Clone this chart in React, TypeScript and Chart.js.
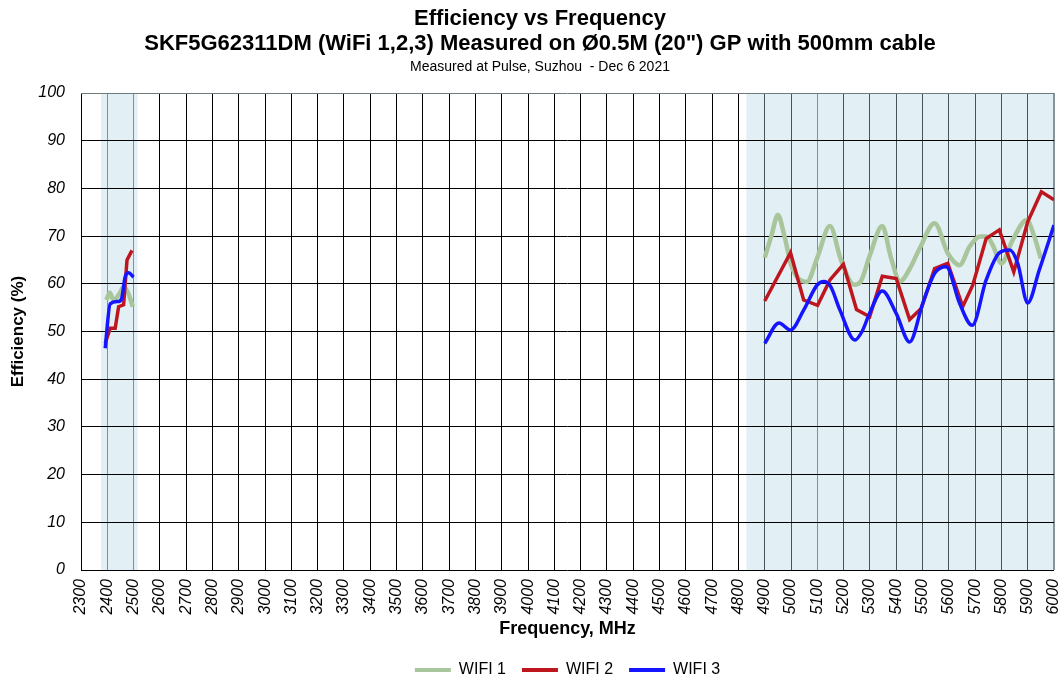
import React, { useEffect, useRef } from "react";
import { Chart, registerables } from "chart.js";

Chart.register(...registerables);

const FONT = "'Liberation Sans', Arial, sans-serif";

const titleLines = [
  "Efficiency vs Frequency",
  'SKF5G62311DM (WiFi 1,2,3) Measured on Ø0.5M (20") GP with 500mm cable',
];
const subtitleText = "Measured at Pulse, Suzhou  - Dec 6 2021";
const xAxisTitle = "Frequency, MHz";
const yAxisTitle = "Efficiency (%)";
const seriesNames = ["WIFI 1", "WIFI 2", "WIFI 3"];

const xMin = 2300;
const xMax = 6000;
const xStep = 100;
const yMin = 0;
const yMax = 100;
const yStep = 10;

// measured bands (MHz)
const bandRanges = [
  [2376, 2515],
  [4830, 6000],
];
const bandMarkers = [2400, 2500, 5100];

// WIFI 1
const wifi1Freq24 = [2396, 2410, 2423, 2447, 2462, 2480, 2497];
const wifi1Eff24 = [56.6, 58.1, 56.6, 58.0, 59.4, 58.0, 55.2];
const wifi1Freq5 = [
  4900, 4925, 4950, 4975, 5000, 5030, 5060, 5100, 5148, 5190, 5240, 5265, 5300,
  5347, 5380, 5415, 5450, 5490, 5546, 5596, 5641, 5679, 5720, 5745, 5767, 5800,
  5843, 5896, 5925, 5950,
];
const wifi1Eff5 = [
  65.5, 70.0, 74.4, 70.0, 64.0, 61.0, 60.4, 65.5, 72.1, 65.0, 59.8, 60.5, 66.0,
  72.1, 65.5, 60.5, 63.0, 67.5, 72.7, 66.4, 63.9, 67.8, 69.9, 69.9, 68.1, 64.3,
  69.2, 73.4, 69.9, 65.3,
];

// WIFI 2
const wifi2Freq24 = [2392, 2411, 2430, 2443, 2462, 2475, 2494];
const wifi2Eff24 = [47.5, 50.7, 50.7, 55.2, 55.6, 65.0, 67.0];
const wifi2Freq5 = [
  4900, 4998, 5048, 5101, 5148, 5199, 5249, 5299, 5347, 5400, 5451, 5495, 5546,
  5596, 5653, 5691, 5742, 5792, 5847, 5900, 5952, 6000,
];
const wifi2Eff5 = [
  56.4, 66.5, 56.6, 55.5, 60.8, 64.1, 54.6, 53.1, 61.6, 61.1, 52.5, 54.8, 63.2,
  64.3, 55.2, 59.7, 69.5, 71.3, 62.5, 73.0, 79.3, 77.6,
];

// WIFI 3
const wifi3Freq24 = [2392, 2411, 2443, 2455, 2468, 2481, 2500];
const wifi3Eff24 = [46.5, 55.8, 56.3, 57.0, 61.5, 62.3, 61.4];
const wifi3Freq5 = [
  4900, 4954, 4998, 5048, 5100, 5125, 5150, 5186, 5243, 5270, 5300, 5347, 5400,
  5451, 5501, 5546, 5590, 5641, 5689, 5742, 5792, 5832, 5862, 5900, 5944, 6000,
];
const wifi3Eff5 = [
  47.5, 51.8, 50.3, 54.5, 59.8, 60.5, 59.5, 54.5, 48.2, 50.0, 54.0, 58.5, 53.8,
  47.8, 55.9, 62.2, 63.6, 55.9, 51.3, 60.8, 66.5, 67.1, 64.3, 56.0, 62.9, 72.3,
];

const gapFreq = 3600;

function buildSeries(f24: number[], e24: number[], f5: number[], e5: number[]) {
  const a = f24.map((x, i) => ({ x, y: e24[i] as number | null }));
  const b = f5.map((x, i) => ({ x, y: e5[i] as number | null }));
  return [...a, { x: gapFreq, y: null }, ...b];
}

const bandPlugin = {
  id: "bands",
  beforeDraw(chart: any) {
    const { ctx, chartArea, scales } = chart;
    const xs = scales.x;
    ctx.save();
    ctx.fillStyle = "#e2eff4";
    bandRanges.forEach(([a, b]) => {
      const x1 = xs.getPixelForValue(a);
      const x2 = xs.getPixelForValue(b);
      ctx.fillRect(x1, chartArea.top, x2 - x1, chartArea.bottom - chartArea.top);
    });
    ctx.restore();
  },
};

const titlePlugin = {
  id: "customTitles",
  afterDraw(chart: any) {
    const ctx = chart.ctx;
    ctx.save();
    ctx.fillStyle = "#000";
    ctx.textAlign = "center";
    ctx.textBaseline = "middle";
    ctx.font = `bold 22px ${FONT}`;
    ctx.fillText(titleLines[0], 540, 19);
    ctx.fillText(titleLines[1], 540, 44);
    ctx.font = `14px ${FONT}`;
    ctx.fillText(subtitleText, 540, 67);
    ctx.restore();
  },
};

export default function App() {
  const ref = useRef<HTMLCanvasElement | null>(null);

  useEffect(() => {
    if (!ref.current) return;
    const inBand = (v: number) => bandRanges.some(([a, b]) => v > a && v <= b);
    const chart = new Chart(ref.current, {
      type: "line",
      data: {
        datasets: [
          {
            label: seriesNames[0],
            data: buildSeries(wifi1Freq24, wifi1Eff24, wifi1Freq5, wifi1Eff5),
            borderColor: "#a8c59b",
            backgroundColor: "#a8c59b",
            borderWidth: 4.5,
            pointRadius: 0,
            cubicInterpolationMode: "monotone",
            order: 3,
          },
          {
            label: seriesNames[1],
            data: buildSeries(wifi2Freq24, wifi2Eff24, wifi2Freq5, wifi2Eff5),
            borderColor: "#be161e",
            backgroundColor: "#be161e",
            borderWidth: 3.5,
            pointRadius: 0,
            tension: 0,
            order: 2,
          },
          {
            label: seriesNames[2],
            data: buildSeries(wifi3Freq24, wifi3Eff24, wifi3Freq5, wifi3Eff5),
            borderColor: "#1515ff",
            backgroundColor: "#1515ff",
            borderWidth: 3.5,
            pointRadius: 0,
            cubicInterpolationMode: "monotone",
            order: 1,
          },
        ],
      } as any,
      options: {
        animation: false,
        responsive: false,
        maintainAspectRatio: false,
        layout: { padding: { top: 93, left: 0, right: 0, bottom: -7 } },
        plugins: {
          title: { display: false },
          tooltip: { enabled: false },
          legend: {
            display: true,
            position: "bottom",
            fullSize: false,
            labels: {
              boxWidth: 36,
              boxHeight: 4,
              padding: 16,
              color: "#000",
              font: { family: FONT, size: 16 },
              generateLabels: (c: any) =>
                c.data.datasets.map((ds: any, i: number) => ({
                  text: ds.label,
                  fillStyle: ds.borderColor,
                  strokeStyle: ds.borderColor,
                  lineWidth: 0,
                  hidden: false,
                  datasetIndex: i,
                  fontColor: "#000",
                })),
            },
          },
        },
        scales: {
          x: {
            type: "linear",
            min: xMin,
            max: xMax,
            afterFit: (s: any) => {
              s.height = 76;
              s.paddingRight = 10;
              s.paddingLeft = 0;
            },
            afterBuildTicks: (s: any) => {
              const t = [];
              for (let v = xMin; v <= xMax; v += xStep) t.push({ value: v });
              s.ticks = t;
            },
            ticks: {
              stepSize: xStep,
              minRotation: 90,
              maxRotation: 90,
              autoSkip: false,
              padding: 9,
              color: "#000",
              font: { family: FONT, size: 16, style: "italic" },
              callback: (v: any) => String(v),
            },
            grid: {
              drawTicks: false,
              lineWidth: (c: any) => (c.tick && c.tick.value === xMax ? 2 : 1),
              color: (c: any) => {
                const v = c.tick ? c.tick.value : 0;
                if (v === xMax) return "#86949a";
                if (bandMarkers.includes(v)) return "#5a9eb0";
                if (inBand(v)) return "#46555c";
                return "#000";
              },
            },
            border: { display: false },
            title: {
              display: true,
              text: xAxisTitle,
              color: "#000",
              font: { family: FONT, size: 18, weight: "bold" },
              padding: { top: 0, bottom: 6 },
            },
          },
          y: {
            min: yMin,
            max: yMax,
            afterFit: (s: any) => {
              s.width = 81;
            },
            ticks: {
              stepSize: yStep,
              padding: 16,
              color: "#000",
              font: { family: FONT, size: 16, style: "italic" },
            },
            grid: {
              drawTicks: false,
              color: (c: any) => (c.tick && c.tick.value === yMax ? "#6f7a7e" : "#000"),
            },
            border: { display: false },
            title: {
              display: true,
              text: yAxisTitle,
              color: "#000",
              font: { family: FONT, size: 17, weight: "bold" },
              padding: { top: 8, bottom: 0 },
            },
          },
        },
      } as any,
      plugins: [bandPlugin, titlePlugin],
    });
    return () => chart.destroy();
  }, []);

  return (
    <div style={{ position: "absolute", left: 0, top: 0, width: 1064, height: 681, background: "#fff" }}>
      <canvas ref={ref} width={1064} height={681} style={{ width: 1064, height: 681 }} />
    </div>
  );
}
